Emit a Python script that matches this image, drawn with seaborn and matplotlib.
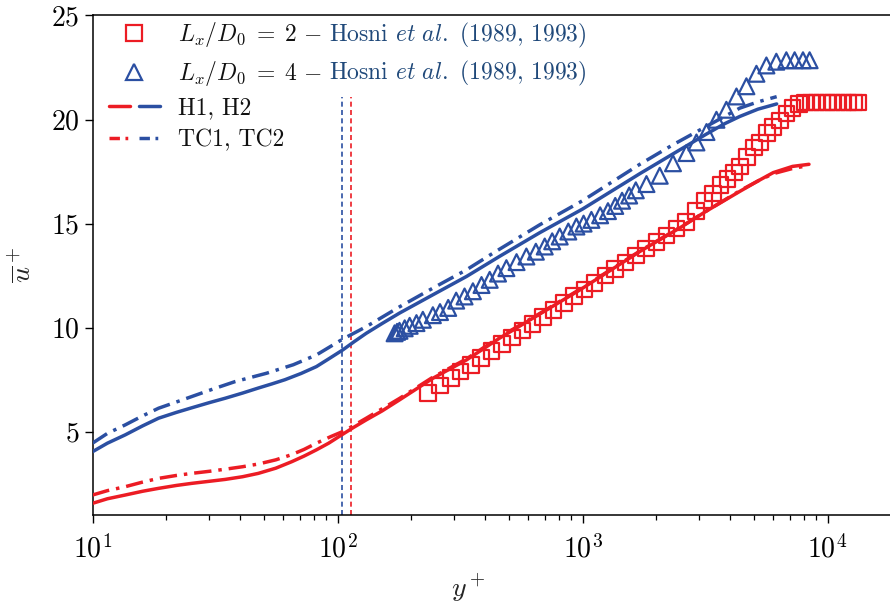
import matplotlib
matplotlib.use("Agg")
import matplotlib.pyplot as plt
import seaborn as sns
from matplotlib.lines import Line2D
from matplotlib.legend_handler import HandlerTuple

# ── Data ──────────────────────────────────────────────────────────────────────
# H1 (Lx/D0 = 2, red) and H2 (Lx/D0 = 4, blue), solid
h1_y = [10, 11.5, 13.6, 16, 18.6, 22, 25.4, 30, 34.8, 41, 47.5, 56, 65, 73, 82, 92,
        104, 116, 131, 152, 179, 245, 336, 459, 668, 977, 1713, 2500, 3200, 4385,
        5200, 6000, 7200, 8400]
h1_u = [1.56, 1.78, 1.96, 2.14, 2.28, 2.42, 2.52, 2.62, 2.71, 2.84, 3.0, 3.25, 3.56,
        3.83, 4.13, 4.45, 4.85, 5.2, 5.57, 6.0, 6.53, 7.57, 8.45, 9.5, 10.65, 11.82,
        13.66, 14.8, 15.6, 16.55, 17.05, 17.45, 17.75, 17.85]
h2_y = [10, 11.5, 13.6, 16, 18.6, 22, 25.4, 30, 34.8, 41, 47.5, 54, 61, 71, 82, 92,
        105, 117, 131, 152, 179, 245, 336, 459, 668, 1000, 1713, 2340, 3200, 3800,
        4385, 5200, 6200]
h2_u = [4.04, 4.45, 4.85, 5.28, 5.65, 5.93, 6.15, 6.4, 6.61, 6.86, 7.1, 7.3, 7.5,
        7.8, 8.13, 8.5, 8.93, 9.33, 9.73, 10.2, 10.7, 11.58, 12.46, 13.43, 14.56,
        15.7, 17.4, 18.35, 19.3, 19.8, 20.15, 20.5, 20.75]

# TC1 (red) and TC2 (blue), dash-dot
tc1_y = [10, 11.5, 13.6, 16, 18.6, 22, 25.4, 30, 34.8, 41, 47.5, 56, 65, 73, 82, 94,
         107, 131, 179, 245, 336, 459, 668, 977, 1713, 2500, 3200, 4385, 5200, 6000,
         7200, 8000]
tc1_u = [1.96, 2.17, 2.36, 2.58, 2.76, 2.9, 3.0, 3.1, 3.2, 3.32, 3.45, 3.65, 3.9,
         4.15, 4.45, 4.77, 5.05, 5.65, 6.6, 7.62, 8.5, 9.55, 10.68, 11.85, 13.68,
         14.82, 15.6, 16.58, 17.05, 17.4, 17.65, 17.75]
tc2_y = [10, 11.5, 13.6, 16, 18.6, 22, 25.4, 31, 38.2, 51.3, 66, 82, 105, 131, 179,
         245, 336, 431, 668, 1000, 1713, 2340, 3200, 3800, 4385, 5200, 6200]
tc2_u = [4.45, 4.92, 5.33, 5.76, 6.13, 6.43, 6.69, 7.05, 7.41, 7.81, 8.22, 8.69,
         9.45, 10.05, 11.0, 11.9, 12.78, 13.58, 14.94, 16.1, 17.85, 18.79, 19.67,
         20.15, 20.55, 20.85, 21.1]

# Hosni et al. (1989, 1993) experiments
sq_y = [234, 262, 290, 318, 350, 385, 425, 470, 515, 570, 625, 690, 760, 840, 925,
        1020, 1120, 1240, 1360, 1500, 1650, 1820, 2000, 2200, 2420, 2650, 2900, 3150,
        3400, 3650, 3900, 4150, 4400, 4700, 5000, 5300, 5650, 6000, 6400, 6800, 7200,
        7650, 8100, 8550, 9000, 9500, 10000, 10500, 11000, 11600, 12200, 12800, 13300]
sq_u = [6.85, 7.23, 7.58, 7.89, 8.21, 8.54, 8.87, 9.21, 9.52, 9.87, 10.18, 10.51,
        10.84, 11.18, 11.51, 11.84, 12.15, 12.5, 12.81, 13.14, 13.47, 13.8, 14.12,
        14.44, 14.77, 15.07, 15.6, 16.1, 16.45, 16.85, 17.15, 17.45, 17.75, 18.2,
        18.65, 18.9, 19.35, 19.65, 19.95, 20.3, 20.55, 20.75, 20.82, 20.82, 20.82,
        20.82, 20.82, 20.82, 20.82, 20.82, 20.82, 20.82, 20.82]
tri_y = [171, 175, 179, 188, 197, 210, 223, 245, 262, 283, 305, 330, 357, 387, 418,
         452, 489, 538, 590, 645, 701, 752, 807, 875, 944, 1010, 1087, 1180, 1270,
         1360, 1450, 1550, 1650, 1824, 2066, 2340, 2655, 2917, 3206, 3520, 3864,
         4249, 4665, 5126, 5630, 6180, 6790, 7340, 7940, 8450]
tri_u = [9.73, 9.8, 9.85, 9.97, 10.09, 10.22, 10.38, 10.6, 10.75, 10.95, 11.3, 11.5,
         11.75, 12.05, 12.3, 12.6, 12.86, 13.15, 13.42, 13.65, 13.9, 14.15, 14.38,
         14.62, 14.86, 15.0, 15.18, 15.4, 15.6, 15.85, 16.1, 16.35, 16.6, 16.9, 17.3,
         17.9, 18.39, 18.9, 19.4, 19.99, 20.47, 21.11, 21.6, 22.2, 22.6, 22.78, 22.85,
         22.85, 22.85, 22.85]

VLINE_H2 = 104
VLINE_H1 = 113.5
VLINE_TOP = 21.1

LEGEND_LABELS = [r"$L_x/D_0\;=\;2$ $-$", r"$L_x/D_0\;=\;4$ $-$",
                 "H1, H2", "TC1, TC2"]
CITATION = r"Hosni $et\ al.$ (1989, 1993)"

RED = "#ec1c24"
BLUE = "#2b4fa2"
CITE = "#20497a"
DASHDOT = (0, (5, 2, 1, 2))
LEG_DASHDOT = (0, (3, 1.6, 0.8, 1.6))
LW = 2.5
LEG_FS = 17

sns.set_theme(style="ticks")
plt.rcParams.update({
    "font.family": "serif",
    "font.serif": ["cmr10"],
    "mathtext.fontset": "cm",
    "axes.formatter.use_mathtext": True,
    "axes.unicode_minus": False,
    "axes.edgecolor": "black",
    "axes.linewidth": 1.1,
    "text.color": "#111111",
    "xtick.color": "black",
    "ytick.color": "black",
})

fig = plt.figure(figsize=(8.9, 6.05), dpi=100)
ax = fig.add_axes([92.5 / 890, 90 / 605, 800.5 / 890, 499.5 / 605])
ax.set_xscale("log")

# ── Curves ────────────────────────────────────────────────────────────────────
for xs, us, col, ls in [
    (h1_y, h1_u, RED, "-"), (h2_y, h2_u, BLUE, "-"),
    (tc1_y, tc1_u, RED, DASHDOT), (tc2_y, tc2_u, BLUE, DASHDOT),
]:
    sns.lineplot(x=xs, y=us, ax=ax, color=col, linewidth=LW, linestyle=ls,
                 zorder=3)

ax.vlines(VLINE_H2, 1, VLINE_TOP, color=BLUE, lw=1.2, ls=(0, (3, 2)), zorder=2)
ax.vlines(VLINE_H1, 1, VLINE_TOP, color=RED, lw=1.2, ls=(0, (3, 2)), zorder=2)

sns.scatterplot(x=sq_y, y=sq_u, ax=ax, marker="s", s=125, facecolor="none",
                edgecolor=RED, linewidth=1.6, zorder=4)
sns.scatterplot(x=tri_y, y=tri_u, ax=ax, marker="^", s=130, facecolor="none",
                edgecolor=BLUE, linewidth=1.6, zorder=4)

# ── Axes ──────────────────────────────────────────────────────────────────────
ax.set_xlim(10, 18500)
ax.set_ylim(1, 25)
ax.set_yticks([5, 10, 15, 20, 25])
ax.spines["right"].set_visible(False)
ax.tick_params(axis="both", which="major", labelsize=20, length=6, width=1.0,
               direction="out")
ax.tick_params(axis="x", which="minor", length=3.5, width=0.9)
ax.tick_params(axis="x", which="major", pad=8)
ax.set_xlabel(r"$y^+$", fontsize=20)
ax.set_ylabel(r"$\overline{u}^+$", fontsize=20)
ax.yaxis.set_label_coords(-0.07, 0.5)
ax.xaxis.set_label_coords(0.47, -0.113)

# ── Legend ────────────────────────────────────────────────────────────────────
handles = [
    Line2D([], [], ls="", marker="s", ms=11, mfc="none", mec=RED, mew=1.6),
    Line2D([], [], ls="", marker="^", ms=11.5, mfc="none", mec=BLUE, mew=1.6),
    (Line2D([], [], color=RED, lw=LW), Line2D([], [], color=BLUE, lw=LW)),
    (Line2D([], [], color=RED, lw=LW, ls=LEG_DASHDOT),
     Line2D([], [], color=BLUE, lw=LW, ls=LEG_DASHDOT)),
]
leg = ax.legend(handles, LEGEND_LABELS, loc="upper left",
                bbox_to_anchor=(0.02, 0.99), frameon=False, fontsize=LEG_FS,
                handlelength=2.2, handletextpad=0.75, labelspacing=0.4,
                borderpad=0, borderaxespad=0,
                handler_map={tuple: HandlerTuple(ndivide=None, pad=0.35)})

# coloured citation after the first two labels
fig.canvas.draw()
for t in leg.get_texts()[:2]:
    bb = t.get_window_extent()
    _, base_y = t.get_transform().transform(t.get_position())
    fig.text(bb.x1 + 7, base_y, CITATION, color=CITE, fontsize=LEG_FS,
             va="baseline", ha="left", transform=None)

fig.savefig("out.png", dpi=100)
